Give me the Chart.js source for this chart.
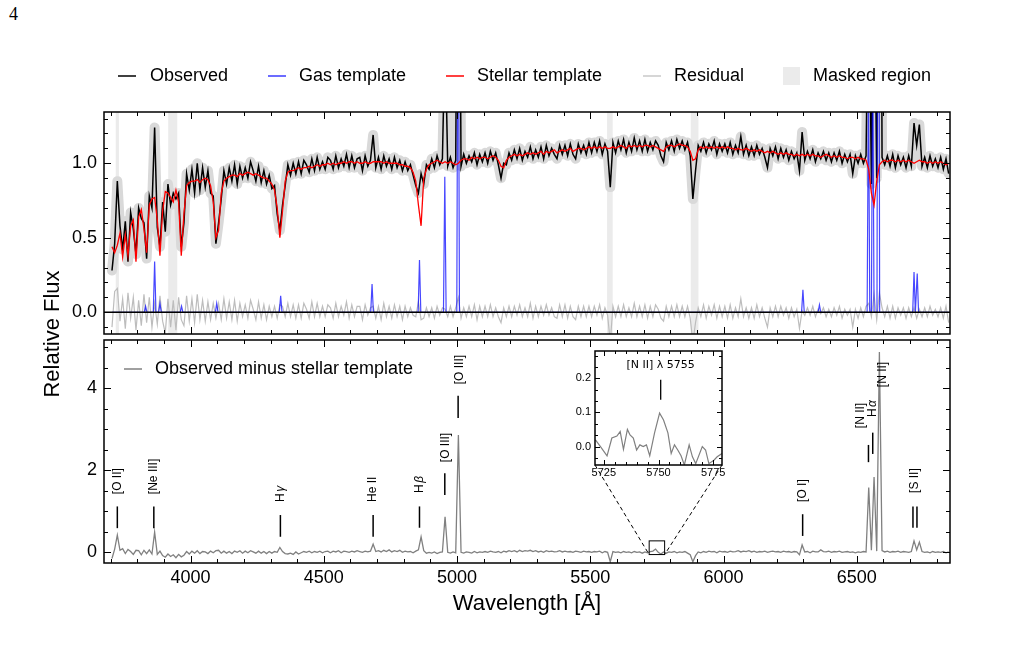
<!DOCTYPE html>
<html>
<head>
<meta charset="utf-8">
<script src="https://cdn.jsdelivr.net/npm/chart.js@4.4.0/dist/chart.umd.min.js"></script>
<style>
  body { margin: 0; background: #fff; }
  #wrap { position: relative; width: 1029px; height: 648px; }
  #wrap canvas { position: absolute; left: 0; top: 0; }
  #pagenum { position: absolute; left: 9px; top: 4px; font: 18px "Liberation Serif", serif; }
</style>
</head>
<body>
<div id="wrap">
  <div id="pagenum">4</div>
  <canvas id="topChart" width="1029" height="648"></canvas>
  <canvas id="bottomChart" width="1029" height="648"></canvas>
  <canvas id="insetChart" width="1029" height="648"></canvas>
</div>
<script>
// wavelength grid of the binned spectrum [Angstrom]
const wave = [
  3705,3715,3725,3735,3745,3755,3765,3775,3785,3795,
  3805,3815,3825,3835,3845,3855,3865,3875,3885,3895,
  3905,3915,3925,3935,3945,3955,3965,3975,3985,3995,
  4005,4015,4025,4035,4045,4055,4065,4075,4085,4095,
  4105,4115,4125,4135,4145,4155,4165,4175,4185,4195,
  4205,4215,4225,4235,4245,4255,4265,4275,4285,4295,
  4305,4315,4325,4335,4345,4355,4365,4375,4385,4395,
  4405,4415,4425,4435,4445,4455,4465,4475,4485,4495,
  4505,4515,4525,4535,4545,4555,4565,4575,4585,4595,
  4605,4615,4625,4635,4645,4655,4665,4675,4685,4695,
  4705,4715,4725,4735,4745,4755,4765,4775,4785,4795,
  4805,4815,4825,4835,4845,4855,4865,4875,4885,4895,
  4905,4915,4925,4935,4945,4955,4965,4975,4985,4995,
  5005,5015,5025,5035,5045,5055,5065,5075,5085,5095,
  5105,5115,5125,5135,5145,5155,5165,5175,5185,5195,
  5205,5215,5225,5235,5245,5255,5265,5275,5285,5295,
  5305,5315,5325,5335,5345,5355,5365,5375,5385,5395,
  5405,5415,5425,5435,5445,5455,5465,5475,5485,5495,
  5505,5515,5525,5535,5545,5555,5565,5575,5585,5595,
  5605,5615,5625,5635,5645,5655,5665,5675,5685,5695,
  5705,5715,5725,5735,5745,5755,5765,5775,5785,5795,
  5805,5815,5825,5835,5845,5855,5865,5875,5885,5895,
  5905,5915,5925,5935,5945,5955,5965,5975,5985,5995,
  6005,6015,6025,6035,6045,6055,6065,6075,6085,6095,
  6105,6115,6125,6135,6145,6155,6165,6175,6185,6195,
  6205,6215,6225,6235,6245,6255,6265,6275,6285,6295,
  6305,6315,6325,6335,6345,6355,6365,6375,6385,6395,
  6405,6415,6425,6435,6445,6455,6465,6475,6485,6495,
  6505,6515,6525,6535,6545,6555,6565,6575,6585,6595,
  6605,6615,6625,6635,6645,6655,6665,6675,6685,6695,
  6705,6715,6725,6735,6745,6755,6765,6775,6785,6795,
  6805,6815,6825,6835,6845
];

// observed spectrum (black)
const observed = [
  0.28,0.46,0.88,0.58,0.42,0.61,0.34,0.67,0.56,0.39,
  0.70,0.63,0.60,0.36,0.78,0.70,1.24,0.57,0.44,0.74,
  0.54,0.86,0.72,0.80,0.76,0.80,0.44,0.60,0.93,0.82,
  0.96,0.80,1.00,0.82,0.97,0.84,0.95,0.80,0.78,0.46,
  0.60,0.76,0.95,0.86,0.97,0.88,0.99,0.86,0.98,0.90,
  0.97,0.90,1.01,0.95,0.88,0.98,0.87,0.95,0.86,0.92,
  0.83,0.85,0.66,0.55,0.72,0.85,0.99,0.92,1.00,0.93,
  1.01,0.93,1.02,0.99,0.94,1.03,0.95,1.04,0.96,1.01,
  0.96,1.04,1.02,0.96,1.05,0.97,1.03,0.98,1.06,0.97,
  1.05,0.97,1.03,1.04,0.95,1.05,0.98,1.02,1.19,0.97,
  1.04,0.96,1.05,0.98,1.03,0.96,1.04,0.97,1.02,0.95,
  1.01,0.95,0.99,0.92,0.85,0.80,0.93,0.86,0.99,0.96,
  1.03,0.97,1.05,0.99,1.03,1.88,0.98,1.04,0.97,1.02,
  3.86,0.98,1.06,1.00,1.05,1.01,1.07,0.99,1.06,1.01,
  1.07,1.00,1.08,1.02,1.07,0.99,0.90,1.00,0.99,1.07,
  1.02,1.09,1.03,1.10,1.02,1.08,1.04,1.11,1.03,1.09,
  1.04,1.11,1.03,1.12,1.05,1.10,1.06,1.03,1.12,1.06,
  1.12,1.05,1.13,1.06,1.03,1.13,1.07,1.12,1.06,1.14,
  1.07,1.14,1.08,1.15,1.06,1.13,1.08,0.84,1.14,1.07,
  1.15,1.09,1.16,1.07,1.14,1.08,1.17,1.09,1.15,1.08,
  1.16,1.08,1.14,1.09,1.15,1.12,1.05,1.01,1.14,1.09,
  1.15,1.08,1.16,1.10,1.15,1.09,1.14,1.05,0.76,0.95,
  1.12,1.08,1.14,1.07,1.13,1.09,1.15,1.06,1.13,1.08,
  1.13,1.07,1.14,1.06,1.12,1.07,1.18,1.06,1.12,1.05,
  1.11,1.05,1.12,1.06,1.10,1.04,0.97,1.10,1.05,1.11,
  1.03,1.10,1.04,1.09,1.02,1.08,1.03,1.07,0.95,1.21,
  1.02,1.08,1.03,1.09,1.01,1.07,1.03,1.08,1.02,1.07,
  1.01,1.07,1.02,1.08,1.00,1.06,1.01,1.06,0.93,1.05,
  1.00,1.06,1.00,1.05,2.54,0.86,2.56,0.90,5.88,1.04,
  0.99,1.05,0.98,1.06,0.97,1.05,0.99,1.04,0.97,1.05,
  0.98,1.27,1.12,1.26,0.98,1.04,0.97,1.05,0.98,1.03,
  0.97,1.04,0.96,1.03,0.93
];

// best-fit stellar template (red)
const stellar = [
  0.44,0.40,0.45,0.53,0.37,0.52,0.38,0.58,0.62,0.34,
  0.64,0.69,0.56,0.40,0.72,0.76,0.77,0.62,0.38,0.68,
  0.81,0.80,0.77,0.74,0.82,0.74,0.38,0.66,0.85,0.87,
  0.88,0.88,0.89,0.87,0.89,0.90,0.89,0.85,0.74,0.50,
  0.55,0.80,0.88,0.90,0.91,0.92,0.92,0.91,0.93,0.92,
  0.93,0.94,0.93,0.92,0.93,0.92,0.91,0.90,0.90,0.88,
  0.86,0.82,0.70,0.50,0.68,0.88,0.94,0.95,0.95,0.96,
  0.97,0.96,0.97,0.97,0.98,0.97,0.98,0.99,0.98,0.99,
  0.99,1.00,0.99,1.00,0.99,1.00,1.00,1.01,1.00,1.01,
  1.01,1.00,1.01,1.00,1.00,1.01,1.00,1.00,1.01,1.01,
  1.01,1.01,1.00,1.01,1.00,1.00,1.00,1.00,0.99,0.99,
  0.98,0.98,0.97,0.94,0.88,0.72,0.58,0.90,0.96,0.99,
  1.00,1.01,1.02,1.01,1.00,1.01,1.00,1.01,1.00,0.99,
  1.00,1.02,1.03,1.03,1.02,1.04,1.03,1.04,1.03,1.04,
  1.04,1.03,1.04,1.05,1.04,1.02,0.98,0.97,1.02,1.04,
  1.05,1.06,1.05,1.06,1.05,1.06,1.07,1.06,1.07,1.06,
  1.07,1.08,1.06,1.08,1.07,1.08,1.09,1.07,1.08,1.09,
  1.08,1.09,1.10,1.08,1.09,1.10,1.10,1.09,1.10,1.11,
  1.10,1.11,1.10,1.11,1.10,1.11,1.10,1.10,1.11,1.10,
  1.11,1.12,1.11,1.10,1.12,1.11,1.12,1.11,1.12,1.11,
  1.12,1.12,1.11,1.12,1.11,1.10,1.09,1.08,1.11,1.12,
  1.12,1.11,1.12,1.13,1.12,1.12,1.11,1.08,1.02,1.03,
  1.09,1.11,1.10,1.11,1.10,1.11,1.10,1.11,1.10,1.11,
  1.10,1.11,1.10,1.10,1.09,1.10,1.09,1.09,1.10,1.09,
  1.08,1.09,1.08,1.09,1.08,1.07,1.08,1.07,1.08,1.07,
  1.06,1.07,1.06,1.07,1.06,1.06,1.05,1.06,1.05,1.06,
  1.05,1.06,1.05,1.06,1.05,1.05,1.04,1.05,1.06,1.05,
  1.04,1.05,1.04,1.05,1.04,1.04,1.03,1.04,1.04,1.03,
  1.04,1.03,1.03,1.02,0.96,0.80,0.72,0.88,0.99,1.01,
  1.02,1.01,1.02,1.02,1.01,1.02,1.01,1.02,1.01,1.02,
  1.01,1.00,1.01,1.02,1.01,1.01,1.00,1.01,1.00,1.01,
  1.00,1.01,1.00,0.99,1.00
];

// fit residual (light grey, top panel)
const residual = [
  -0.10,0.14,0.16,-0.06,0.09,-0.11,0.13,-0.04,0.10,-0.12,
  0.08,-0.09,0.12,-0.07,0.10,-0.10,0.06,-0.08,0.11,-0.06,
  -0.14,0.09,-0.10,0.08,-0.12,0.10,-0.05,-0.09,0.11,-0.06,
  0.09,-0.07,0.12,-0.05,0.08,-0.06,0.07,-0.05,0.06,-0.04,
  0.06,-0.05,0.09,-0.04,0.07,-0.05,0.08,-0.06,0.06,-0.03,
  0.05,-0.04,0.08,0.02,-0.05,0.07,-0.04,0.05,-0.05,0.04,
  -0.03,0.04,-0.04,0.05,0.04,-0.03,0.06,-0.03,0.05,-0.04,
  0.05,-0.04,0.06,0.02,-0.04,0.07,-0.03,0.06,-0.03,0.04,
  -0.03,0.05,0.03,-0.04,0.06,-0.03,0.04,-0.02,0.07,-0.04,
  0.05,-0.03,0.04,0.04,-0.05,0.05,-0.02,0.03,0.04,-0.04,
  0.04,-0.05,0.06,-0.03,0.04,-0.04,0.05,-0.03,0.04,-0.05,
  0.04,-0.03,0.03,-0.02,-0.03,0.07,-0.05,-0.04,0.03,-0.03,
  0.03,-0.04,0.04,-0.02,0.03,0.02,-0.03,0.04,-0.03,0.03,
  0.10,-0.04,0.03,-0.03,0.04,-0.03,0.05,-0.05,0.04,-0.03,
  0.04,-0.03,0.05,-0.03,0.03,-0.03,-0.07,0.03,-0.03,0.04,
  -0.03,0.04,-0.02,0.05,-0.03,0.03,-0.03,0.06,-0.04,0.04,
  -0.03,0.04,-0.02,0.05,-0.02,0.03,-0.03,-0.04,0.05,-0.03,
  0.05,-0.04,0.04,-0.03,-0.05,0.04,-0.03,0.04,-0.03,0.04,
  -0.03,0.04,-0.02,0.05,-0.04,0.03,-0.02,-0.20,0.04,-0.03,
  0.04,-0.03,0.05,-0.03,0.03,-0.03,0.06,-0.03,0.04,-0.03,
  0.05,-0.04,0.04,-0.03,0.05,0.02,-0.04,-0.06,0.04,-0.03,
  0.04,-0.03,0.05,-0.03,0.04,-0.03,0.04,-0.04,-0.20,-0.07,
  0.03,-0.03,0.05,-0.04,0.04,-0.02,0.05,-0.04,0.04,-0.03,
  0.04,-0.04,0.05,-0.04,0.03,-0.03,0.09,-0.03,0.03,-0.04,
  0.03,-0.04,0.05,-0.03,0.03,-0.04,-0.10,0.03,-0.03,0.04,
  -0.03,0.04,-0.02,0.03,-0.04,0.03,-0.03,0.02,-0.11,0.01,
  -0.02,0.03,-0.02,0.04,-0.03,0.02,-0.01,0.03,-0.03,0.02,
  -0.03,0.03,-0.02,0.04,-0.04,0.02,-0.02,0.02,-0.10,0.02,
  -0.04,0.03,-0.03,0.04,0.06,-0.03,0.12,-0.05,0.13,0.03,
  -0.03,0.04,-0.04,0.04,-0.04,0.03,-0.02,0.03,-0.04,0.03,
  -0.03,0.03,-0.04,0.02,-0.03,0.03,-0.03,0.04,-0.02,0.02,
  -0.03,0.03,-0.04,0.04,-0.07
];

// observed minus stellar template (grey, bottom panel)
const obsMinusStellar = [
  -0.15,0.08,0.42,0.05,0.09,-0.03,0.07,0.02,-0.05,0.05,
  0.04,-0.06,0.05,-0.03,0.06,-0.04,0.49,-0.05,0.03,-0.08,
  -0.12,-0.04,-0.10,-0.06,-0.13,-0.05,-0.11,-0.07,0.02,-0.04,
  0.03,-0.02,0.04,-0.03,0.02,0.01,-0.03,0.03,-0.01,0.04,
  0.05,-0.02,0.03,-0.02,0.02,-0.03,0.03,0.00,0.04,-0.02,
  0.03,-0.01,0.04,0.01,-0.02,0.03,-0.02,0.02,-0.03,0.02,
  -0.02,0.02,0.00,0.12,0.02,-0.03,-0.04,-0.02,-0.05,0.01,
  -0.04,-0.01,0.02,0.00,0.03,-0.01,0.02,0.00,0.03,-0.01,
  0.02,0.03,-0.01,0.03,0.01,0.04,-0.01,0.03,0.02,0.00,
  0.03,0.01,0.04,0.02,0.00,0.03,0.01,0.03,0.20,0.02,
  0.04,0.01,0.05,0.02,0.06,0.01,0.04,0.02,0.05,0.00,
  0.03,0.01,0.02,-0.01,0.03,0.06,0.38,0.04,-0.02,0.00,
  -0.02,0.01,-0.03,0.00,0.01,0.87,0.00,-0.02,0.01,-0.01,
  2.86,0.00,-0.02,0.01,0.00,-0.02,0.02,-0.01,0.01,0.00,
  0.02,0.00,0.03,0.01,0.00,0.02,-0.01,0.03,0.01,0.04,
  0.02,0.04,0.01,0.05,0.02,0.04,0.03,0.05,0.02,0.04,
  0.01,0.03,0.00,0.04,0.02,0.03,0.01,0.02,0.04,0.01,
  0.03,0.01,0.02,0.00,0.03,0.02,0.00,0.03,0.01,0.02,
  0.00,0.02,0.01,0.03,-0.01,0.02,0.00,-0.23,0.02,0.00,
  0.01,-0.01,0.02,0.00,0.01,-0.01,0.02,0.00,0.01,-0.02,
  0.01,-0.01,0.02,0.03,0.08,0.00,-0.04,0.01,-0.02,0.01,
  0.00,0.02,-0.01,0.01,0.00,0.02,-0.02,-0.06,-0.23,-0.08,
  0.01,-0.01,0.02,0.00,0.03,0.01,0.02,-0.01,0.03,0.01,
  0.02,0.00,0.03,0.01,0.02,0.04,0.01,0.03,0.02,0.04,
  0.01,0.03,0.00,0.02,0.01,0.03,0.00,0.02,0.03,0.01,
  0.02,0.00,0.03,0.01,0.02,0.00,0.02,0.01,-0.06,0.18,
  0.01,0.02,-0.01,0.03,0.01,0.01,0.06,0.02,0.01,0.03,
  0.00,0.02,0.01,0.03,0.00,0.01,0.02,0.00,0.01,-0.01,
  0.01,0.00,0.02,0.01,1.58,0.05,1.84,0.03,4.89,0.04,
  0.01,0.03,0.00,0.02,0.01,0.03,0.00,0.02,0.01,0.00,
  0.02,0.28,0.06,0.25,0.02,0.00,0.01,-0.01,0.02,0.00,
  0.01,0.00,0.02,-0.01,0.01
];

// gas (emission line) template, blue
const gasWave = [3705,3826,3831,3836,3860,3865,3870,3880,3885,3890,3961,3966,3971,4093,4098,4103,
  4333,4338,4343,4676,4681,4686,4854,4859,4864,4949,4954,4959,4999,5004,5009,6293,6298,6303,
  6355,6360,6365,6539,6544,6549,6555,6560,6565,6576,6581,6586,6710,6715,6720,6722,6727,6732,6845];
const gasFlux = [0,0,0.04,0,0,0.34,0,0,0.06,0,0,0.04,0,0,0.06,0,
  0,0.11,0,0,0.19,0,0,0.35,0,0,0.91,0,0,2.80,0,0,0.15,0,
  0,0.05,0,0,1.55,0,0,1.80,0,0,4.85,0,0,0.27,0,0,0.26,0,0];

// zoom on the [N II] 5755 region (inset)
const insetWave = [5721.2,5723.5,5726.5,5728.7,5731.0,5732.5,5734.0,5735.8,5737.0,5738.5,5740.0,
  5741.5,5743.0,5744.5,5746.0,5748.2,5750.5,5752.3,5754.3,5755.8,5757.3,5758.8,5760.3,5761.8,
  5764.0,5765.5,5767.0,5770.0,5771.5,5773.0,5775.3,5776.8,5779.0];
const insetFlux = [0.020,0.000,-0.027,0.025,0.031,0.044,-0.008,0.050,0.034,0.025,-0.010,
  0.005,0.000,0.005,-0.027,0.040,0.098,0.078,0.040,-0.020,0.005,-0.010,-0.027,-0.054,
  0.005,-0.030,-0.050,0.000,-0.010,-0.050,-0.040,-0.030,-0.020];

// masked wavelength ranges
const maskedRanges = [[3719, 3731], [3916, 3950], [5563, 5584], [5877, 5906]];

// tick labels
const xTicks = [4000, 4500, 5000, 5500, 6000, 6500];
const topYTicks = [0, 0.5, 1.0];
const bottomYTicks = [0, 2, 4];
const insetXTicks = [5725, 5750, 5775];
const insetYTicks = [0, 0.1, 0.2];

// emission line markers: wavelength, marker extent, label anchor
const lineMarks = [
  { name: '[O II]',   at: [3725], lo: 0.59, hi: 1.12, lx: 3725, ly: 1.42 },
  { name: '[Ne III]', at: [3862], lo: 0.59, hi: 1.12, lx: 3862, ly: 1.42 },
  { name: 'Hγ',       at: [4337], lo: 0.38, hi: 0.91, lx: 4337, ly: 1.23 },
  { name: 'He II',    at: [4685], lo: 0.38, hi: 0.91, lx: 4685, ly: 1.23 },
  { name: 'Hβ',       at: [4859], lo: 0.60, hi: 1.12, lx: 4859, ly: 1.45 },
  { name: '[O III]',  at: [4954], lo: 1.40, hi: 1.93, lx: 4959, ly: 2.20 },
  { name: '[O III]',  at: [5004], lo: 3.28, hi: 3.82, lx: 5009, ly: 4.10 },
  { name: '[O I]',    at: [6297], lo: 0.40, hi: 0.93, lx: 6298, ly: 1.23 },
  { name: '[N II]',   at: [6544], lo: 2.20, hi: 2.62, lx: 6513, ly: 3.03 },
  { name: 'Hα',       at: [6560], lo: 2.40, hi: 2.92, lx: 6560, ly: 3.30 },
  { name: '[N II]',   at: [],     lo: 0,    hi: 0,    lx: 6597, ly: 4.03 },
  { name: '[S II]',   at: [6711, 6726], lo: 0.60, hi: 1.12, lx: 6719, ly: 1.45 }
];

Chart.defaults.font.family = '"Liberation Sans", Arial, Helvetica, sans-serif';
Chart.defaults.font.size = 18;
Chart.defaults.color = '#000';

const X_MIN = 3675, X_MAX = 6850;
const FONT = '"Liberation Sans", Arial, sans-serif';

function pts(xs, ys) {
  return xs.map((x, i) => ({ x: x, y: ys[i] }));
}

function steps(a, b, s) {
  const out = [];
  for (let v = a; v <= b + 1e-9; v += s) out.push(v);
  return out;
}

// inward ticks on all four sides plus the box
function tickFrame(chart, t) {
  const { ctx, chartArea: a, scales: { x, y } } = chart;
  ctx.save();
  ctx.strokeStyle = '#000';
  ctx.lineWidth = 1;
  ctx.beginPath();
  const tx = (vals, len) => vals.forEach(v => {
    const p = Math.round(x.getPixelForValue(v)) + 0.5;
    if (p < a.left + 1 || p > a.right - 1) return;
    ctx.moveTo(p, a.bottom); ctx.lineTo(p, a.bottom - len);
    ctx.moveTo(p, a.top); ctx.lineTo(p, a.top + len);
  });
  const ty = (vals, len) => vals.forEach(v => {
    const p = Math.round(y.getPixelForValue(v)) + 0.5;
    if (p < a.top + 1 || p > a.bottom - 1) return;
    ctx.moveTo(a.left, p); ctx.lineTo(a.left + len, p);
    ctx.moveTo(a.right, p); ctx.lineTo(a.right - len, p);
  });
  tx(t.xMinor, t.minor); tx(t.xMajor, t.major);
  ty(t.yMinor, t.minor); ty(t.yMajor, t.major);
  ctx.stroke();
  ctx.lineWidth = 1.5;
  ctx.strokeRect(a.left, a.top, a.right - a.left, a.bottom - a.top);
  ctx.restore();
}

function yAxis(min, max, ticks, fmt, width, size, pad) {
  return {
    type: 'linear', min: min, max: max,
    afterFit: s => { s.width = width; },
    afterBuildTicks: s => { s.ticks = ticks.map(v => ({ value: v })); },
    ticks: { font: { size: size }, padding: pad, callback: fmt },
    grid: { display: false, drawTicks: false },
    border: { display: false }
  };
}

const baseOptions = {
  responsive: false,
  animation: false,
  devicePixelRatio: 1,
  events: [],
  elements: { point: { radius: 0 }, line: { tension: 0 } },
  plugins: { legend: { display: false }, tooltip: { enabled: false } }
};

// ---------- inset ----------
const insetDecor = {
  id: 'insetDecor',
  beforeDatasetsDraw(chart) {
    const { ctx, chartArea: a } = chart;
    ctx.save();
    ctx.fillStyle = '#fff';
    ctx.fillRect(a.left, a.top, a.right - a.left, a.bottom - a.top);
    ctx.restore();
  },
  afterDatasetsDraw(chart) {
    const { ctx, scales: { x, y } } = chart;
    tickFrame(chart, {
      xMajor: insetXTicks, xMinor: steps(5720, 5780, 5),
      yMajor: insetYTicks, yMinor: steps(-0.1, 0.3, 0.1 / 3),
      major: 5, minor: 3
    });
    ctx.save();
    const px = x.getPixelForValue(5751);
    ctx.strokeStyle = '#000';
    ctx.lineWidth = 1.3;
    ctx.beginPath();
    ctx.moveTo(px, y.getPixelForValue(0.137));
    ctx.lineTo(px, y.getPixelForValue(0.196));
    ctx.stroke();
    ctx.fillStyle = '#000';
    ctx.font = '11px "DejaVu Sans", sans-serif';
    ctx.textAlign = 'center';
    ctx.textBaseline = 'middle';
    ctx.fillText('[N II] λ 5755', px, y.getPixelForValue(0.238));
    ctx.restore();
  }
};

const insetChart = new Chart(document.getElementById('insetChart'), {
  type: 'line',
  data: {
    datasets: [{ data: pts(insetWave, insetFlux), borderColor: '#808080', borderWidth: 1.2 }]
  },
  options: Object.assign({}, baseOptions, {
    layout: { padding: { left: 555, right: 307, top: 351, bottom: 153 } },
    scales: {
      x: {
        type: 'linear', min: 5721, max: 5779,
        afterFit: s => { s.height = 30; },
        afterBuildTicks: s => { s.ticks = insetXTicks.map(v => ({ value: v })); },
        ticks: { font: { size: 11 }, padding: 1, maxRotation: 0, autoSkip: false, callback: v => String(v) },
        grid: { display: false, drawTicks: false },
        border: { display: false }
      },
      y: yAxis(-0.054, 0.28, insetYTicks, v => v.toFixed(1), 40, 11, 4)
    }
  }),
  plugins: [insetDecor]
});

// ---------- top panel ----------
const topDecor = {
  id: 'topDecor',
  beforeDatasetsDraw(chart) {
    const { ctx, chartArea: a, scales: { x } } = chart;
    ctx.save();
    ctx.fillStyle = '#ebebeb';
    maskedRanges.forEach(r => {
      const x0 = x.getPixelForValue(r[0]), x1 = x.getPixelForValue(r[1]);
      ctx.fillRect(x0, a.top, x1 - x0, a.bottom - a.top);
    });
    ctx.restore();
  },
  afterDatasetsDraw(chart) {
    const { ctx, chartArea: a, scales: { y } } = chart;
    // zero line
    ctx.save();
    ctx.strokeStyle = '#000';
    ctx.lineWidth = 1.5;
    ctx.beginPath();
    const y0 = y.getPixelForValue(0);
    ctx.moveTo(a.left, y0); ctx.lineTo(a.right, y0);
    ctx.stroke();
    ctx.restore();

    tickFrame(chart, {
      xMajor: xTicks, xMinor: steps(3700, 6800, 100),
      yMajor: topYTicks, yMinor: steps(-0.1, 1.3, 0.1),
      major: 7, minor: 4
    });

    // legend above the panels
    ctx.save();
    ctx.font = '18px ' + FONT;
    ctx.textBaseline = 'middle';
    ctx.fillStyle = '#000';
    const ly = 76;
    const items = [
      { text: 'Observed', color: '#000000', x: 118, tx: 150 },
      { text: 'Gas template', color: '#3b3bff', x: 268, tx: 299 },
      { text: 'Stellar template', color: '#ff0000', x: 446, tx: 477 },
      { text: 'Residual', color: '#c8c8c8', x: 643, tx: 674 }
    ];
    items.forEach(it => {
      ctx.strokeStyle = it.color;
      ctx.lineWidth = 1.5;
      ctx.beginPath();
      ctx.moveTo(it.x, ly); ctx.lineTo(it.x + 18, ly);
      ctx.stroke();
      ctx.fillText(it.text, it.tx, ly);
    });
    ctx.fillStyle = '#ebebeb';
    ctx.fillRect(783, 67, 17, 18);
    ctx.fillStyle = '#000';
    ctx.fillText('Masked region', 813, ly);

    // shared y label
    ctx.translate(53, 334);
    ctx.rotate(-Math.PI / 2);
    ctx.textAlign = 'center';
    ctx.font = '22px ' + FONT;
    ctx.fillText('Relative Flux', 0, 0);
    ctx.restore();
  }
};

new Chart(document.getElementById('topChart'), {
  type: 'line',
  data: {
    datasets: [
      { data: pts(wave, observed), borderColor: '#d9d9d9', borderWidth: 10, borderJoinStyle: 'round', borderCapStyle: 'round', order: 6 },
      { data: pts(wave, observed), borderColor: '#000000', borderWidth: 1.5, order: 5 },
      { data: pts(wave, residual), borderColor: '#bdbdbd', borderWidth: 1.2, order: 4 },
      { data: pts(gasWave, gasFlux), borderColor: 'rgba(0,0,255,0.72)', borderWidth: 1.2, order: 3 },
      { data: pts(wave, stellar), borderColor: '#ff0000', borderWidth: 1.3, order: 2 }
    ]
  },
  options: Object.assign({}, baseOptions, {
    layout: { padding: { left: 54, right: 79, top: 112, bottom: 314 } },
    scales: {
      x: { type: 'linear', min: X_MIN, max: X_MAX, display: false },
      y: yAxis(-0.146, 1.344, topYTicks, v => v.toFixed(1), 50, 18, 7)
    }
  }),
  plugins: [topDecor]
});

// ---------- bottom panel ----------
function drawGreekLabel(ctx, text) {
  // "Hα" style: roman H, italic greek letter
  if (/^H[αβγ]$/.test(text)) {
    ctx.fillText('H', 0, 0);
    const w = ctx.measureText('H').width;
    ctx.font = 'italic 12px ' + FONT;
    ctx.fillText(text[1], w + 1.5, 0);
  } else {
    ctx.fillText(text, 0, 0);
  }
}

const bottomDecor = {
  id: 'bottomDecor',
  afterDatasetsDraw(chart) {
    const { ctx, scales: { x, y } } = chart;
    tickFrame(chart, {
      xMajor: xTicks, xMinor: steps(3700, 6800, 100),
      yMajor: bottomYTicks, yMinor: steps(0, 5, 0.5),
      major: 7, minor: 4
    });

    ctx.save();
    // legend inside panel
    ctx.strokeStyle = '#808080';
    ctx.lineWidth = 1.5;
    ctx.beginPath();
    ctx.moveTo(124, 369); ctx.lineTo(142, 369);
    ctx.stroke();
    ctx.fillStyle = '#000';
    ctx.font = '18px ' + FONT;
    ctx.textBaseline = 'middle';
    ctx.fillText('Observed minus stellar template', 155, 369);

    // emission line markers and labels
    ctx.strokeStyle = '#000';
    ctx.lineWidth = 1.5;
    lineMarks.forEach(m => {
      m.at.forEach(w => {
        const px = x.getPixelForValue(w);
        ctx.beginPath();
        ctx.moveTo(px, y.getPixelForValue(m.lo));
        ctx.lineTo(px, y.getPixelForValue(m.hi));
        ctx.stroke();
      });
      ctx.save();
      ctx.translate(x.getPixelForValue(m.lx), y.getPixelForValue(m.ly));
      ctx.rotate(-Math.PI / 2);
      ctx.font = '12px ' + FONT;
      ctx.textAlign = 'left';
      ctx.textBaseline = 'middle';
      drawGreekLabel(ctx, m.name);
      ctx.restore();
    });

    // zoom box and connectors to the inset
    const r0 = x.getPixelForValue(5721), r1 = x.getPixelForValue(5779);
    const rb = y.getPixelForValue(-0.054), rt = y.getPixelForValue(0.28);
    ctx.lineWidth = 1;
    ctx.strokeRect(r0, rt, r1 - r0, rb - rt);
    const ia = insetChart.chartArea;
    ctx.setLineDash([4, 3]);
    ctx.beginPath();
    ctx.moveTo(ia.left, ia.bottom); ctx.lineTo(r0, rb);
    ctx.moveTo(ia.right, ia.bottom); ctx.lineTo(r1, rb);
    ctx.stroke();
    ctx.setLineDash([]);

    // x label
    ctx.font = '22px ' + FONT;
    ctx.textAlign = 'center';
    ctx.fillText('Wavelength [Å]', 527, 604);
    ctx.restore();
  }
};

new Chart(document.getElementById('bottomChart'), {
  type: 'line',
  data: {
    datasets: [{ data: pts(wave, obsMinusStellar), borderColor: '#808080', borderWidth: 1.3 }]
  },
  options: Object.assign({}, baseOptions, {
    layout: { padding: { left: 54, right: 79, top: 340, bottom: 25 } },
    scales: {
      x: {
        type: 'linear', min: X_MIN, max: X_MAX,
        afterFit: s => { s.height = 60; },
        afterBuildTicks: s => { s.ticks = xTicks.map(v => ({ value: v })); },
        ticks: { font: { size: 18 }, padding: 4, maxRotation: 0, autoSkip: false, callback: v => String(v) },
        grid: { display: false, drawTicks: false },
        border: { display: false }
      },
      y: yAxis(-0.26, 5.18, bottomYTicks, v => String(v), 50, 18, 7)
    }
  }),
  plugins: [bottomDecor]
});
</script>
</body>
</html>
